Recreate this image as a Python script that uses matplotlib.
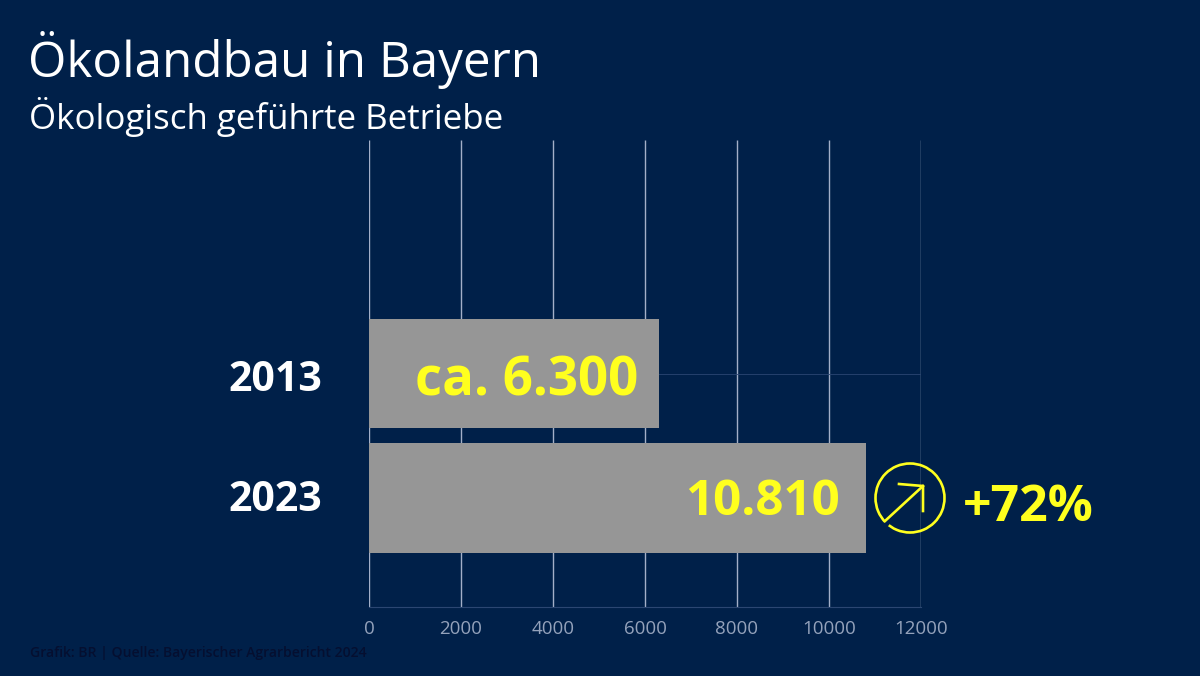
import matplotlib
matplotlib.use("Agg")
import matplotlib.pyplot as plt
from matplotlib.patches import Arc

plt.rcParams["font.family"] = ["Open Sans", "DejaVu Sans"]

years = ["2013", "2023"]
betriebe = [6300, 10810]
bar_labels = ["ca. 6.300", "10.810"]
label_sizes = [38, 35.5]
label_pad = [-15, -19]
label_lift = [-6, -3]
year_lift = [-5, -2]
xticks = [0, 2000, 4000, 6000, 8000, 10000, 12000]

BG = "#002049"
YELLOW = "#ffff1e"
W, H = 1200, 676

fig = plt.figure(figsize=(12, 6.76), dpi=100, facecolor=BG)

# Plotbereich in Pixeln: x 369-921, y 140-607
ax = fig.add_axes([369 / W, 1 - 607 / H, 552 / W, 467 / H], facecolor=BG)
ax.set_xlim(0, 12000)
ax.set_ylim(1.875, -1.875)

ax.vlines(xticks, -1.875, 1.875, color="#a3afc8", linewidth=1.0, zorder=1)
ax.hlines(0, 0, 12000, color="#2b4672", linewidth=0.6, zorder=1)
ax.barh(range(len(years)), betriebe, height=0.88, color="#969696", zorder=2)

for i, (val, lab) in enumerate(zip(betriebe, bar_labels)):
    ax.annotate(lab, (val, i), xytext=(label_pad[i], label_lift[i]), textcoords="offset points",
                ha="right", va="center", color=YELLOW, fontsize=label_sizes[i], fontweight="bold")

# Jahreszahlen linksbuendig links neben der Achse
ax.set_yticks([])
for i, year in enumerate(years):
    ax.annotate(year, (0, i), xytext=(-101, year_lift[i]), textcoords="offset points",
                ha="left", va="center", color="white", fontsize=29.5, fontweight="bold")

ax.set_xticks(xticks)
ax.set_xticklabels([str(t) for t in xticks], color="#94a2bb", fontsize=13.5)
ax.tick_params(axis="x", length=0, pad=9)

for side in ["top", "left", "right"]:
    ax.spines[side].set_visible(False)
ax.spines["bottom"].set_color("#2b4672")
ax.spines["bottom"].set_linewidth(0.8)

# Overlay in Pixelkoordinaten fuer Titel und Pfeil-Symbol
ov = fig.add_axes([0, 0, 1, 1], facecolor="none")
ov.set_xlim(0, W)
ov.set_ylim(H, 0)
ov.axis("off")

ov.text(28, 60, "Ökolandbau in Bayern", color="white", fontsize=35.6, va="center")
ov.text(29, 117, "Ökologisch geführte Betriebe", color="white", fontsize=25.1, va="center")
ov.text(30, 653, "Grafik: BR | Quelle: Bayerischer Agrarbericht 2024", color="#050f30",
        fontsize=10.1, va="center", fontweight="semibold")

ov.add_patch(Arc((910, 498), 69, 69, theta1=0, theta2=360, color=YELLOW, linewidth=1.9))
ov.add_patch(Arc((910, 498), 71, 71, theta1=128, theta2=136, color=BG, linewidth=4, zorder=3))
ov.plot([885, 923], [521, 486], color=YELLOW, linewidth=1.9, zorder=4)
ov.plot([899, 923, 923], [484, 486, 511], color=YELLOW, linewidth=1.9, zorder=4)
ov.text(963, 508, "+72%", color=YELLOW, fontsize=36, fontweight="bold", va="center")

fig.savefig("out.png", dpi=100, facecolor=BG)
